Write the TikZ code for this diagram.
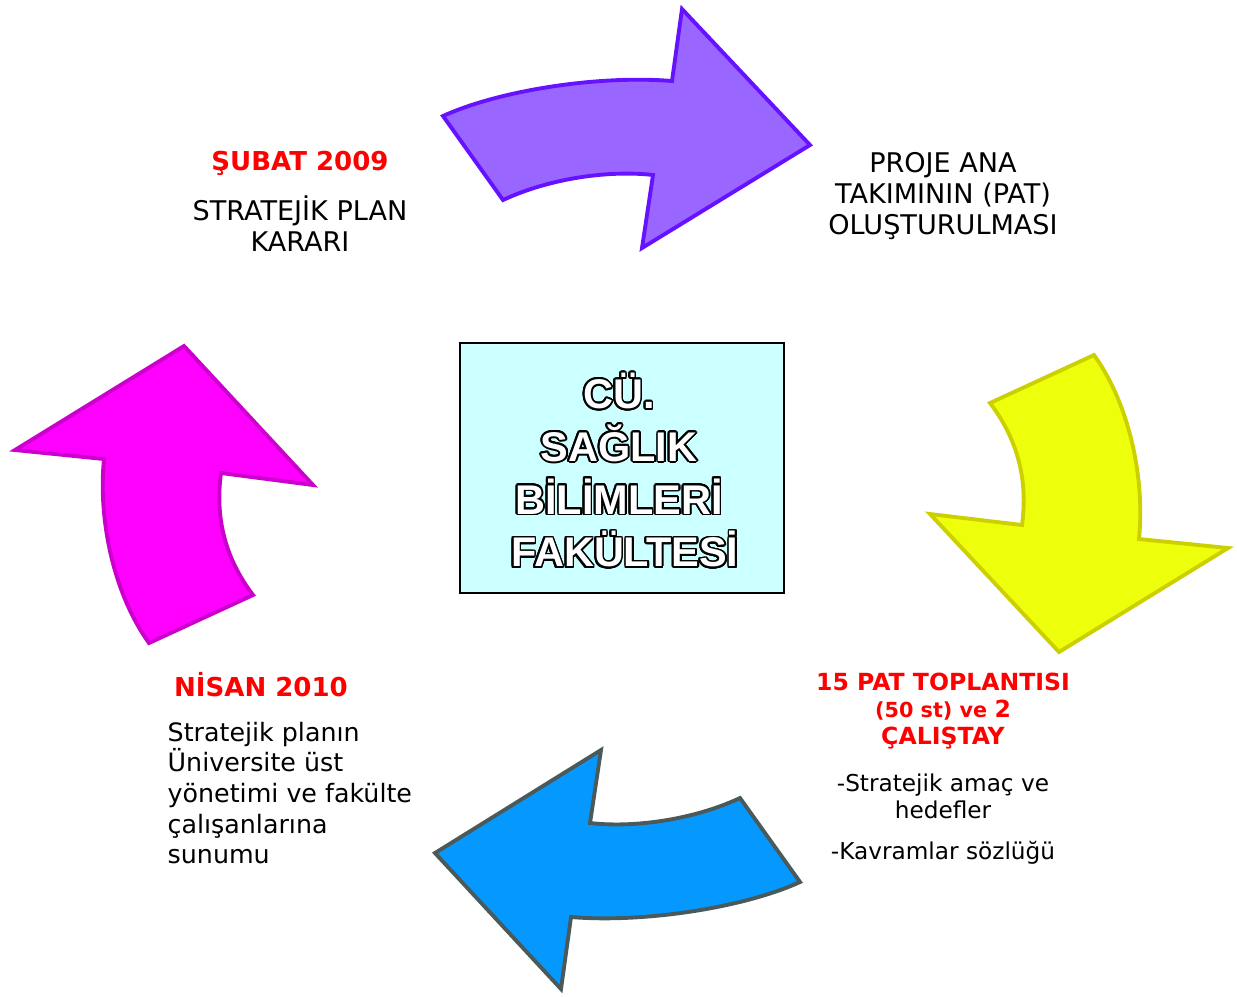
\documentclass[tikz,border=0pt]{standalone}
\usepackage{fontspec}
\setmainfont{DejaVu Sans}
\newfontfamily\kutufont{Liberation Sans}
\usepackage{contour}
\contourlength{0.5pt}
\contournumber{24}
\usepackage{tikz}
\definecolor{morDolgu}{HTML}{9966FF}
\definecolor{morCizgi}{HTML}{6611FF}
\definecolor{sariDolgu}{HTML}{EEFF0C}
\definecolor{sariCizgi}{HTML}{CCD000}
\definecolor{maviDolgu}{HTML}{0599FF}
\definecolor{maviCizgi}{HTML}{4A5A5A}
\definecolor{pembeDolgu}{HTML}{FF00FF}
\definecolor{pembeCizgi}{HTML}{CC00CC}
\definecolor{kutuDolgu}{HTML}{CCFFFF}
\definecolor{kirmizi}{HTML}{FF0000}
\tikzset{
	ok/.style       = {line width=1.1pt, line join=miter},
	baslik/.style   = {text=kirmizi, font=\bfseries\fontsize{7.4}{8.8}\selectfont, align=center, inner sep=0pt},
	metin/.style    = {font=\fontsize{7.7}{8.8}\selectfont, align=center, inner sep=0pt},
	kutu/.style     = {draw, line width=0.5pt, fill=kutuDolgu, minimum width=3.24cm,
		minimum height=2.5cm}
}
\newcommand{\kontur}[1]{\textcolor{white}{\contour{black}{#1}}}

\begin{document}
\begin{tikzpicture}[x=0.01cm, y=-0.01cm]
	\useasboundingbox (0,0) rectangle (1237,996);
	% oklar
	\draw[ok, fill=morDolgu, draw=morCizgi] (443,116) .. controls (500,90) and (600,75) .. (672,81)
		-- (682,9) -- (810,145) -- (642,248) -- (653,175)
		.. controls (610,170) and (550,178) .. (503,200) -- cycle;
	\draw[ok, fill=sariDolgu, draw=sariCizgi] (990,403) -- (1094,355)
		.. controls (1130,405) and (1145,480) .. (1139,539)
		-- (1228,548) -- (1059,652) -- (930,514) -- (1022,525)
		.. controls (1028,480) and (1018,440) .. (990,403) -- cycle;
	\draw[ok, fill=maviDolgu, draw=maviCizgi] (800,882) .. controls (743,908) and (643,923) .. (571,917)
		-- (561,989) -- (435,853) -- (601,750) -- (590,823)
		.. controls (633,828) and (693,820) .. (740,798) -- cycle;
	\draw[ok, fill=pembeDolgu, draw=pembeCizgi] (253,595) -- (149,643)
		.. controls (113,593) and (98,518) .. (104,459)
		-- (15,450) -- (184,346) -- (313,485) -- (221,473)
		.. controls (215,518) and (225,558) .. (253,595) -- cycle;
	
	% orta kutu
	\node[kutu] (kutu) at (622,468) {};
	\node[font=\kutufont\bfseries\fontsize{11.8}{15}\selectfont, align=center] (kutuYazi) at (619,471)
		{\kontur{CÜ.}\\\kontur{SAĞLIK}\\\kontur{BİLİMLERİ}\\\kontur{ FAKÜLTESİ}};
	
	% yazilar
	\node[baslik] (subat) at (300,163) {ŞUBAT 2009};
	\node[metin] (subatTxt) at (300,224) {STRATEJİK PLAN\\KARARI};
	\node[metin] (pat) at (943,196) {PROJE ANA\\TAKIMININ (PAT)\\OLUŞTURULMASI};
	\node[baslik, font=\bfseries\fontsize{6.7}{7.7}\selectfont] (toplanti) at (943,711)
		{15 PAT TOPLANTISI\\{\fontsize{5.9}{7.7}\selectfont(50 st) ve }2\\ÇALIŞTAY};
	\node[metin, font=\fontsize{6.6}{7.7}\selectfont] (hedef) at (943,796) {-Stratejik amaç ve\\hedefler};
	\node[metin, font=\fontsize{6.6}{7.7}\selectfont] (sozluk) at (943,853) {-Kavramlar sözlüğü};
	\node[baslik] (nisan) at (261,685) {NİSAN 2010};
	\node[metin, font=\fontsize{7.2}{8.7}\selectfont, align=left, anchor=west] (nisanTxt) at (167,793)
		{Stratejik planın\\Üniversite üst\\yönetimi ve fakülte\\çalışanlarına\\sunumu};
\end{tikzpicture}
\end{document}
